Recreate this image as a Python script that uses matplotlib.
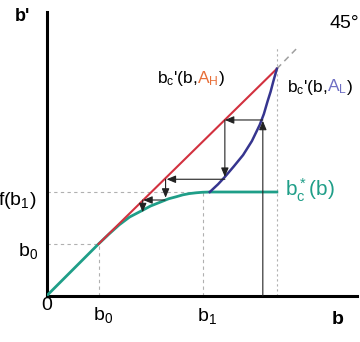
import matplotlib
matplotlib.use("Agg")
import matplotlib.pyplot as plt
from matplotlib import transforms

plt.rcParams['font.family'] = ['Liberation Sans', 'DejaVu Sans']
plt.rcParams['mathtext.default'] = 'regular'

# ---- data ----
b0 = 1.0
b1 = 3.0
fb1 = 2.0
b_top = 4.43            # where red and blue meet (x)
b_top_y = 4.37

# 45 degree line b' = b (red, from b0 upward)
red_x = [1.0, b_top]
red_y = [1.0, b_top_y]
ext_x = [b_top, 4.85]
ext_y = [b_top_y, 4.80]

# green policy b*_c(b)
green_x = [0.0, 1.0, 1.2, 1.4, 1.6, 1.85, 2.0, 2.2, 2.35, 2.5, 2.62, 2.75, 2.88, 3.0, 3.15, b_top]
green_y = [0.0, 1.0, 1.19, 1.37, 1.52, 1.65, 1.73, 1.81, 1.87, 1.91, 1.945, 1.97, 1.985, 1.995, 2.0, 2.0]

# blue b_c'(b, A_L)
blue_x = [3.14, 3.3, 3.43, 3.6, 3.78, 3.95, 4.1, 4.18, 4.25, 4.31, 4.36, b_top]
blue_y = [2.0, 2.15, 2.29, 2.49, 2.71, 2.98, 3.29, 3.5, 3.74, 3.93, 4.12, b_top_y]

# cobweb arrows: (x_from, y_from, x_to, y_to)
arrows = [
    (4.16, 0.0, 4.16, 3.37),
    (4.16, 3.385, 3.43, 3.385),
    (3.43, 3.385, 3.43, 2.29),
    (3.43, 2.245, 2.31, 2.245),
    (2.29, 2.245, 2.29, 1.89),
    (2.28, 1.846, 1.86, 1.846),
    (1.85, 1.846, 1.85, 1.61),
]

GREEN = '#1f9e88'
RED = '#d2313f'
BLUE = '#36358f'
ORANGE = '#e8703a'
LBLUE = '#6f6fc4'

fig = plt.figure(figsize=(3.6, 3.42), dpi=100)
ax = fig.add_axes([46.5 / 360, 46 / 342, 310.5 / 360, 284.3 / 342])
ax.set_xlim(0, 310.5 / 52)
ax.set_ylim(0, 284.3 / 52)
for s in ['top', 'right']:
    ax.spines[s].set_visible(False)
for s in ['left', 'bottom']:
    ax.spines[s].set_linewidth(2.2)
ax.set_xticks([])
ax.set_yticks([])

# reference dashed lines
dkw = dict(color='#b0b0b0', lw=0.8, ls=(0, (3, 3)))
ax.plot([0, b0], [b0, b0], **dkw)
ax.plot([b0, b0], [0, b0], **dkw)
ax.plot([0, 3.15], [fb1, fb1], **dkw)
ax.plot([b1, b1], [0, fb1], **dkw)
ax.plot([b_top, b_top], [0, 4.8], color='#b0b0b0', lw=0.8, ls=(0, (2, 2.5)))
ax.plot(ext_x, ext_y, color='#a0a0a0', lw=1.1, ls=(0, (4, 3)))

# curves
ax.plot(green_x, green_y, color=GREEN, lw=2.0, solid_joinstyle='round', zorder=3)
ax.plot(red_x, red_y, color=RED, lw=1.5, zorder=3)
ax.plot(blue_x, blue_y, color=BLUE, lw=1.8, solid_joinstyle='round', zorder=3)

# cobweb
for (x0, y0, x1, y1) in arrows:
    ax.annotate('', xy=(x1, y1), xytext=(x0, y0),
                arrowprops=dict(arrowstyle='-|>,head_length=0.6,head_width=0.25',
                                color='#222222', lw=0.8, shrinkA=0, shrinkB=0,
                                mutation_scale=9), zorder=4)

# axis labels
ax.text(-0.47, 5.38, "b'", fontsize=13, fontweight='bold', ha='center', va='center',
        clip_on=False)
ax.text(5.59, -0.46, "b", fontsize=14, fontweight='bold', ha='center', va='center',
        clip_on=False)
ax.text(0.0, -0.19, "0", fontsize=14, ha='center', va='center', clip_on=False)
ax.text(0.894, -0.46, r"b$_0$", fontsize=14, ha='left', va='baseline', clip_on=False)
ax.text(2.89, -0.49, r"b$_1$", fontsize=14, ha='left', va='baseline', clip_on=False)
ax.text(-0.16, 0.77, r"b$_0$", fontsize=14, ha='right', va='baseline', clip_on=False)
ax.text(-0.19, 1.75, r"f(b$_1$)", fontsize=14, ha='right', va='baseline', clip_on=False)
ax.text(5.45, 5.15, "45°", fontsize=14, ha='left', va='baseline', clip_on=False)
ax.text(4.59, 1.91, r"b$^*_c$(b)", fontsize=15, color=GREEN, ha='left',
        va='baseline', clip_on=False)

fig.canvas.draw()
renderer = fig.canvas.get_renderer()


def seq_text(x, y, parts, size):
    t = ax.transData
    for s, c in parts:
        txt = ax.text(x, y, s, color=c, transform=t, fontsize=size,
                      va='baseline', ha='left', clip_on=False)
        ex = txt.get_window_extent(renderer)
        t = transforms.offset_copy(txt.get_transform(), fig=fig, x=ex.width, units='dots')


seq_text(2.12, 4.09, [(r"b$_c$'(b,", 'black'), (r"A$_H$", ORANGE), (")", 'black')], 12.5)
seq_text(4.62, 3.93, [(r"b$_c$'(b,", 'black'), (r"A$_L$", LBLUE), (")", 'black')], 12.5)

fig.savefig('out.png', dpi=100)
